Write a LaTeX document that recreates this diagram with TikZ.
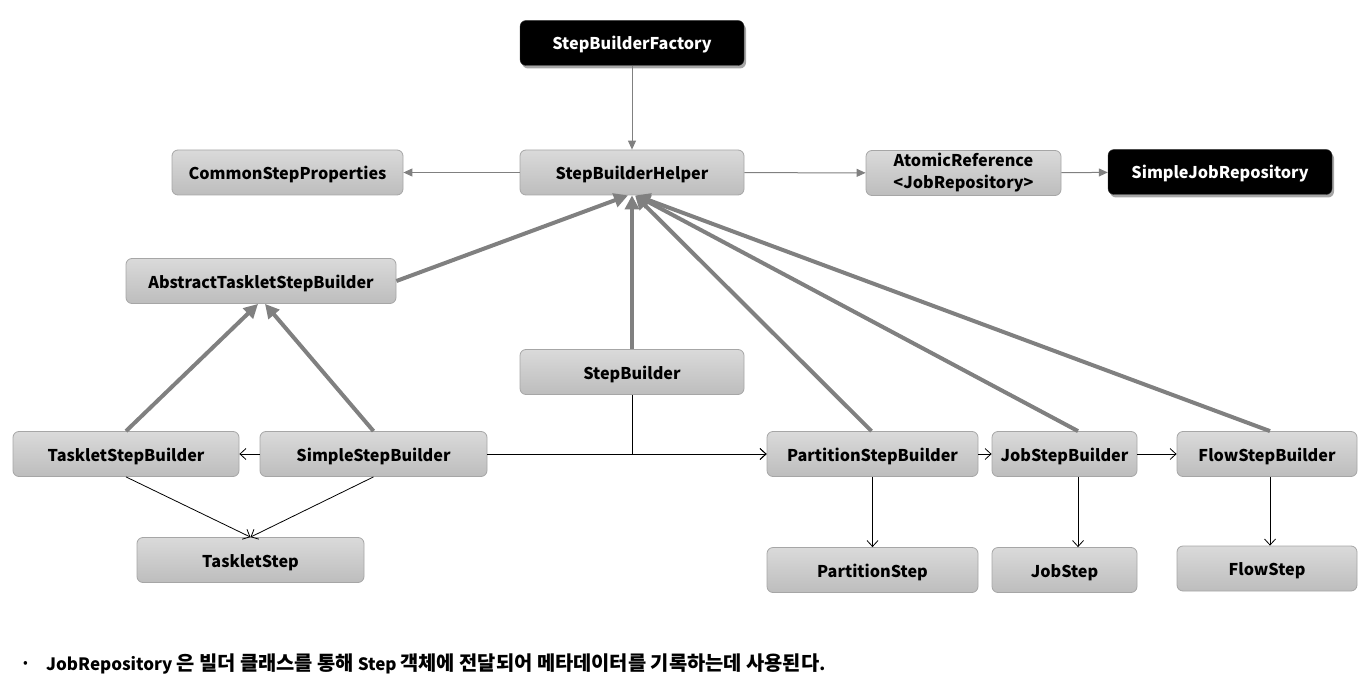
\documentclass[tikz,border=0pt]{standalone}
\usepackage{fontspec}
\setmainfont{Noto Sans CJK KR}
\usetikzlibrary{arrows.meta,shadows}
\definecolor{lg}{HTML}{808080}
\definecolor{boxtop}{HTML}{DADADA}
\definecolor{boxbot}{HTML}{BDBDBD}
\definecolor{boxborder}{HTML}{A6A6A6}
\newcommand\hk[1]{{\fontsize{19.8}{20}\selectfont #1}}
\begin{document}
\begin{tikzpicture}[x=1pt,y=-1pt,
  boxbase/.style={rounded corners=6pt, font=\fontsize{16.2}{22}\selectfont\bfseries,
    inner sep=0pt, minimum height=45pt, align=center},
  box/.style={boxbase, draw=boxborder, line width=0.8pt, top color=boxtop, bottom color=boxbot,
    text height=14pt, text depth=0pt},
  box2/.style={boxbase, draw=boxborder, line width=0.8pt, top color=boxtop, bottom color=boxbot},
  dark/.style={boxbase, fill=black, draw=black!80, text=white, text height=14pt, text depth=0pt,
    drop shadow={shadow xshift=2pt, shadow yshift=-3pt, fill=black, opacity=0.35}},
  garr/.style={draw=lg, line width=1pt, -{Triangle[length=9pt,width=8pt]}},
  thick/.style={draw=lg, line width=4pt, -{Triangle[length=14pt,width=14pt]}},
  barr/.style={draw=black, line width=0.8pt, -{Straight Barb[length=6pt,width=11pt]}}
]
\useasboundingbox (0,0) rectangle (1362,695);
% nodes
\node[dark, minimum width=224pt] (sbf) at (632,43) {StepBuilderFactory};
\node[box, minimum width=224pt] (sbh) at (632,172.5) {StepBuilderHelper};
\node[box, minimum width=231pt] (csp) at (287.5,172.5) {CommonStepProperties};
\node[box2, minimum width=195pt] (ar) at (963.5,173) {AtomicReference\\[0pt]<JobRepository>};
\node[dark, minimum width=224pt] (sjr) at (1220,172) {SimpleJobRepository};
\node[box, minimum width=270pt] (atsb) at (261,281) {AbstractTaskletStepBuilder};
\node[box, minimum width=224pt] (sb) at (632,372) {StepBuilder};
\node[box, minimum width=226pt] (tsb) at (126,454) {TaskletStepBuilder};
\node[box, minimum width=227pt] (ssb) at (373.5,454) {SimpleStepBuilder};
\node[box, minimum width=227pt] (ts) at (250.5,560) {TaskletStep};
\node[box, minimum width=211pt] (psb) at (872.5,454) {PartitionStepBuilder};
\node[box, minimum width=145pt] (jsb) at (1064.5,454) {JobStepBuilder};
\node[box, minimum width=180pt] (fsb) at (1267,454) {FlowStepBuilder};
\node[box, minimum width=211pt] (ps) at (872.5,570) {PartitionStep};
\node[box, minimum width=145pt] (js) at (1064.5,570) {JobStep};
\node[box, minimum width=180pt] (fs) at (1267,568.5) {FlowStep};
% bottom note
\node[anchor=west, inner sep=0pt, font=\fontsize{14}{18}\selectfont] (dot) at (23,664) {•};
\node[anchor=west, inner sep=0pt, font=\fontsize{17}{20}\selectfont\bfseries] (note) at (46,664)
  {JobRepository \hk{은 빌더 클래스를 통해} Step \hk{객체에 전달되어 메타데이터를 기록하는데 사용된다}.};
% gray thin connectors
\draw[garr] (sbf) -- (sbh);
\draw[garr] (sbh) -- (csp);
\draw[garr] (sbh) -- (ar);
\draw[garr] (ar) -- (sjr);
% thick inheritance arrows
\draw[thick] (atsb.east) -- ([xshift=-4pt]sbh.south);
\draw[thick] (sb.north) -- (sbh.south);
\draw[thick] ([xshift=-1pt]psb.north) -- ([xshift=3pt]sbh.south);
\draw[thick] ([xshift=13.5pt]jsb.north) -- ([xshift=4pt]sbh.south);
\draw[thick] ([xshift=3pt]fsb.north) -- ([xshift=4pt]sbh.south);
\draw[thick] (tsb.north) -- ([xshift=-3pt]atsb.south);
\draw[thick] (ssb.north) -- ([xshift=4pt]atsb.south);
% thin black connectors
\draw[barr] (ssb) -- (tsb);
\draw[barr] (tsb.south) -- (ts.north);
\draw[barr] (ssb.south) -- (ts.north);
\draw[barr] (ssb.east) -- (psb.west);
\draw[barr] (sb.south) |- (psb.west);
\draw[barr] (psb) -- (jsb);
\draw[barr] (jsb) -- (fsb);
\draw[barr] (psb.south) -- (ps.north);
\draw[barr] ([xshift=13.5pt]jsb.south) -- ([xshift=13.5pt]js.north);
\draw[barr] ([xshift=3pt]fsb.south) -- ([xshift=3pt]fs.north);
\end{tikzpicture}
\end{document}
